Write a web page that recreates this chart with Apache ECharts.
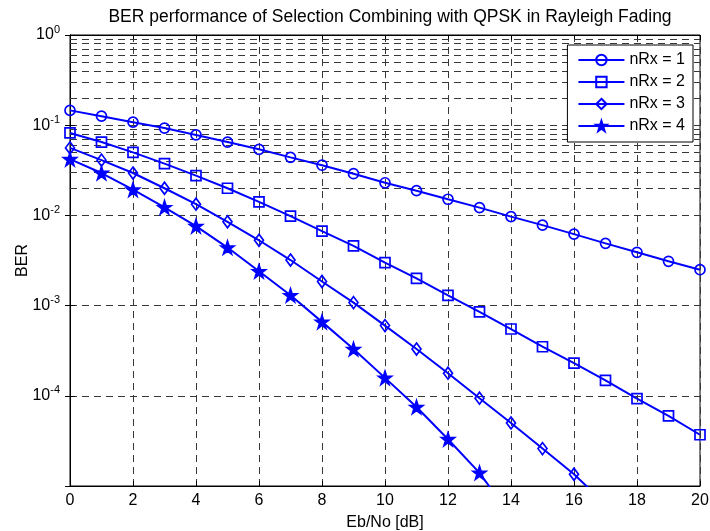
<!DOCTYPE html>
<html>
<head>
<meta charset="utf-8">
<script src="https://cdn.jsdelivr.net/npm/echarts@6/dist/echarts.min.js"></script>
<style>
  html, body { margin: 0; padding: 0; background: #fff; }
  #chart { width: 710px; height: 531px; }
</style>
</head>
<body>
<div id="chart"></div>
<script>
// Eb/No sweep in dB
const ebno = [0, 1, 2, 3, 4, 5, 6, 7, 8, 9, 10, 11, 12, 13, 14, 15, 16, 17, 18, 19, 20];

// Simulated BER for selection combining, one array per receive-antenna count
const berRx1 = [0.146, 0.126, 0.108, 0.093, 0.078, 0.065, 0.054, 0.044, 0.036, 0.029, 0.023,
                0.0188, 0.0151, 0.0122, 0.0097, 0.0078, 0.0062, 0.0049, 0.0039, 0.0031, 0.0025];
const berRx2 = [0.082, 0.065, 0.050, 0.0375, 0.0276, 0.0200, 0.0141, 0.0098, 0.0067, 0.0046, 0.0030,
                0.0020, 0.0013, 0.00085, 0.00055, 0.00035, 0.00023, 0.000148, 0.000093, 0.00006, 0.000037];
const berRx3 = [0.056, 0.041, 0.0295, 0.020, 0.0133, 0.0085, 0.0053, 0.0032, 0.00185, 0.00108, 0.0006,
                0.00033, 0.000178, 0.000094, 0.00005, 0.000026, 0.0000135, 0.0000063];
const berRx4 = [0.042, 0.0295, 0.0193, 0.0123, 0.0076, 0.0044, 0.0024, 0.0013, 0.00066, 0.00033, 0.000158,
                0.000075, 0.000033, 0.000014, 0.0000046];

const seriesNames = ['nRx = 1', 'nRx = 2', 'nRx = 3', 'nRx = 4'];

const FONT = 'Liberation Sans, Arial, Helvetica, sans-serif';
const BLUE = '#0000ff';
const GRID_COLOR = '#383838';
const DASH = [7, 5];

// minor log gridlines at 2..9 x 10^k
const minorGrid = [];
for (let k = -5; k <= -1; k++) {
  for (let m = 2; m <= 9; m++) minorGrid.push(m * Math.pow(10, k));
}

const starPath = 'path://M50,0 L61.8,35.3 L99,35.3 L69,57.3 L80.4,92.7 L50,70.9 L19.6,92.7 L31,57.3 L1,35.3 L38.2,35.3 Z';

function pairs(ys) {
  return ys.map((y, i) => [ebno[i], y]);
}

function curve(name, ys, symbol, size, filled) {
  return {
    name: name,
    type: 'line',
    data: pairs(ys),
    symbol: symbol,
    symbolSize: size,
    showAllSymbol: true,
    z: 3,
    clip: true,
    lineStyle: { color: BLUE, width: 2 },
    itemStyle: {
      color: filled ? BLUE : 'rgba(0,0,0,0)',
      borderColor: BLUE,
      borderWidth: 1.7
    },
    emphasis: { disabled: true }
  };
}

const chart = echarts.init(document.getElementById('chart'), null, { renderer: 'canvas' });

const option = {
  animation: false,
  backgroundColor: '#ffffff',
  textStyle: { fontFamily: FONT },
  title: {
    text: 'BER performance of Selection Combining with QPSK in Rayleigh Fading',
    left: 385,
    textAlign: 'center',
    top: 3,
    textStyle: { fontFamily: FONT, fontSize: 17.5, fontWeight: 'normal', color: '#000' }
  },
  grid: {
    left: 70, right: 10, top: 35, bottom: 45,
    outerBoundsMode: 'none',
    containLabel: false,
    show: true, borderColor: '#000', borderWidth: 1, backgroundColor: 'transparent'
  },
  legend: {
    data: seriesNames,
    orient: 'vertical',
    right: 17,
    top: 45,
    zlevel: 1,
    z: 10,
    padding: [7, 8, 8, 10],
    itemGap: 6,
    itemWidth: 46,
    itemHeight: 13,
    backgroundColor: '#ffffff',
    borderColor: '#000000',
    borderWidth: 1,
    borderRadius: 0,
    textStyle: { fontFamily: FONT, fontSize: 16, color: '#000' },
    selectedMode: false
  },
  xAxis: [{
    type: 'value',
    min: 0,
    max: 20,
    interval: 2,
    name: 'Eb/No [dB]',
    nameLocation: 'middle',
    nameGap: 29,
    nameMoveOverlap: false,
    nameTextStyle: { fontFamily: FONT, fontSize: 16, color: '#000' },
    axisLine: { show: true, lineStyle: { color: '#000', width: 1 } },
    axisTick: { show: true, inside: true, length: 5, lineStyle: { color: '#000' } },
    axisLabel: { fontFamily: FONT, fontSize: 16, color: '#000', margin: 7 },
    splitLine: { show: true, lineStyle: { color: GRID_COLOR, type: DASH, width: 1 } }
  }, {
    type: 'value',
    position: 'top',
    min: 0,
    max: 20,
    interval: 2,
    axisLine: { show: true, lineStyle: { color: '#000', width: 1 } },
    axisTick: { show: true, inside: true, length: 5, lineStyle: { color: '#000' } },
    axisLabel: { show: false },
    splitLine: { show: false }
  }],
  yAxis: [{
    type: 'log',
    logBase: 10,
    min: 1e-5,
    max: 1,
    name: 'BER',
    nameLocation: 'middle',
    nameGap: 39,
    nameMoveOverlap: false,
    nameRotate: 90,
    nameTextStyle: { fontFamily: FONT, fontSize: 16, color: '#000' },
    axisLine: { show: true, lineStyle: { color: '#000', width: 1 } },
    axisTick: { show: true, inside: true, length: 5, lineStyle: { color: '#000' } },
    axisLabel: {
      showMinLabel: false,
      margin: 10,
      formatter: function (v) {
        const e = Math.round(Math.log10(v));
        return '{b|10}{s|' + e + '}';
      },
      rich: {
        b: { fontFamily: FONT, fontSize: 16, color: '#000', lineHeight: 22 },
        s: { fontFamily: FONT, fontSize: 11, color: '#000', lineHeight: 6, verticalAlign: 'top' }
      }
    },
    splitLine: { show: true, lineStyle: { color: GRID_COLOR, type: DASH, width: 1 } }
  }, {
    type: 'log',
    logBase: 10,
    min: 1e-5,
    max: 1,
    position: 'right',
    axisLine: { show: true, lineStyle: { color: '#000', width: 1 } },
    axisTick: { show: true, inside: true, length: 5, lineStyle: { color: '#000' } },
    axisLabel: { show: false },
    splitLine: { show: false }
  }],
  series: [
    {
      name: 'minor-grid',
      type: 'line',
      data: [[0, 0.5]],
      symbol: 'none',
      lineStyle: { opacity: 0 },
      silent: true,
      z: 1,
      markLine: {
        silent: true,
        z: 1,
        symbol: ['none', 'none'],
        label: { show: false },
        lineStyle: { color: GRID_COLOR, type: DASH, width: 1 },
        emphasis: { disabled: true },
        data: minorGrid.map(v => ({ yAxis: v }))
      }
    },
    curve(seriesNames[0], berRx1, 'circle', 10, false),
    curve(seriesNames[1], berRx2, 'rect', 10, false),
    curve(seriesNames[2], berRx3, 'diamond', [9, 12], false),
    curve(seriesNames[3], berRx4, starPath, 13, true)
  ]
};

chart.setOption(option);
</script>
</body>
</html>
